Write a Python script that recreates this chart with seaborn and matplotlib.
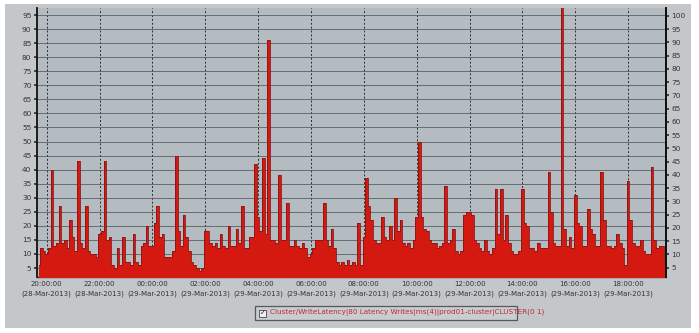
import numpy as np
import pandas as pd
import matplotlib
matplotlib.use("Agg")
import matplotlib.pyplot as plt
import matplotlib.dates as mdates
from matplotlib.patches import Rectangle
import seaborn as sns

# ---- data (6-minute samples starting 28-Mar-2013 19:42) ----
start_time = "2013-03-28 19:42"
pre_20 = [6, 12, 11]
h20 = [10, 12, 40, 13, 14, 27, 14, 15, 12, 22]
h21 = [16, 11, 43, 14, 12, 27, 11, 10, 10, 9]
h22 = [17, 18, 43, 15, 16, 6, 5, 12, 6, 16]
h23 = [7, 7, 6, 17, 7, 6, 13, 14, 20, 13]
h00 = [13, 21, 27, 16, 17, 9, 9, 9, 11, 45]
h01 = [18, 13, 24, 16, 11, 7, 6, 5, 4, 5]
h02 = [18, 18, 14, 13, 14, 12, 17, 13, 12, 20]
h03 = [13, 13, 19, 14, 27, 12, 12, 16, 16, 42]
h04 = [23, 18, 44, 17, 86, 15, 15, 14, 38, 15]
h05 = [15, 28, 13, 13, 15, 13, 12, 14, 12, 9]
h06 = [10, 12, 15, 15, 15, 28, 15, 13, 19, 12]
h07 = [7, 6, 7, 6, 8, 6, 7, 6, 21, 6]
h08 = [16, 37, 27, 22, 15, 14, 14, 23, 16, 15]
h09 = [20, 15, 30, 18, 22, 14, 13, 14, 12, 15]
h10 = [23, 50, 23, 19, 18, 15, 14, 14, 12, 13]
h11 = [14, 34, 14, 15, 19, 11, 10, 11, 24, 25]
h12 = [25, 24, 15, 14, 12, 11, 15, 11, 10, 12]
h13 = [33, 17, 33, 15, 24, 14, 11, 10, 10, 11]
h14 = [33, 21, 20, 12, 12, 11, 14, 12, 12, 12]
h15 = [39, 25, 14, 13, 13, 104, 19, 13, 16, 12]
h16 = [31, 21, 20, 13, 13, 26, 19, 17, 13, 13]
h17 = [39, 22, 13, 13, 12, 13, 17, 14, 12, 6]
h18 = [36, 22, 14, 13, 13, 15, 11, 10, 10, 41]
h19 = [15, 12, 13, 13, 8]

latency = (pre_20 + h20 + h21 + h22 + h23 + h00 + h01 + h02 + h03 + h04 + h05
           + h06 + h07 + h08 + h09 + h10 + h11 + h12 + h13 + h14 + h15 + h16
           + h17 + h18 + h19)

left_ticks = list(range(5, 100, 5))
right_ticks = list(range(5, 105, 5))
legend_label = "Cluster/WriteLatency|80 Latency Writes|ms(4)|prod01-cluster|CLUSTER(0 1)"

times = pd.date_range(start_time, periods=len(latency), freq="6min")
df = pd.DataFrame({"time": times, "latency": latency})

sns.set_theme(style="white")
plt.rcParams["font.family"] = ["DejaVu Sans"]

W, H = 699, 333
fig = plt.figure(figsize=(W / 100, H / 100), dpi=100)
fig.patch.set_facecolor("white")
fig.patches.append(Rectangle((5 / W, 5 / H), 686 / W, 324 / H, transform=fig.transFigure,
                             facecolor="#c3c7ca", edgecolor="none", zorder=-5))

ax = fig.add_axes([37 / W, 1 - 277 / H, 629 / W, 269 / H])
ax.set_facecolor("#b5bcc1")

ax.fill_between(df["time"], 0, df["latency"], color="#d41a10", lw=0, step="mid", zorder=3)
sns.lineplot(data=df, x="time", y="latency", ax=ax, color="#8c1414", lw=0.6,
             drawstyle="steps-mid", zorder=4)

ax.set_xlim(pd.Timestamp("2013-03-28 19:38"), pd.Timestamp("2013-03-29 19:26"))
ax.set_ylim(1.8, 97.5)
ax.set_yticks(left_ticks)
ax.set_yticklabels([str(t) for t in left_ticks])
ax.xaxis.set_major_locator(mdates.HourLocator(byhour=range(0, 24, 2)))
ax.xaxis.set_major_formatter(mdates.DateFormatter("%H:%M:%S\n(%d-%b-%Y)"))
ax.set_xlabel("")
ax.set_ylabel("")

ax.grid(axis="y", color="#5a6065", lw=0.6, ls="-", zorder=1)
ax.grid(axis="x", color="#2a2a2a", lw=0.7, ls=(0, (2, 2)), zorder=1)
ax.set_axisbelow(True)

ax.tick_params(axis="y", labelsize=5.3, colors="#333333", length=2, pad=2, left=True)
ax.tick_params(axis="x", labelsize=5.0, colors="#333333", length=0, pad=3)
for lab in ax.get_xticklabels():
    lab.set_linespacing(1.6)
for side in ["left", "right"]:
    ax.spines[side].set_color("#111111")
    ax.spines[side].set_linewidth(1.3)
ax.spines["top"].set_visible(False)
ax.spines["bottom"].set_color("#5a1010")
ax.spines["bottom"].set_linewidth(1.0)

ax2 = ax.twinx()
ax2.set_ylim(1.5, 103)
ax2.set_yticks(right_ticks)
ax2.set_yticklabels([str(t) for t in right_ticks])
ax2.tick_params(axis="y", labelsize=5.3, colors="#333333", length=2, pad=2)
ax2.spines["right"].set_color("#111111")
ax2.spines["right"].set_linewidth(1.3)
ax2.spines["top"].set_visible(False)
ax2.spines["left"].set_visible(False)
ax2.spines["bottom"].set_visible(False)
ax2.grid(False)

# legend box
fig.patches.append(Rectangle((255 / W, 1 - 320 / H), 262 / W, 14 / H, transform=fig.transFigure,
                             facecolor="#c9cdd0", edgecolor="#55595c", lw=0.9, zorder=5))
fig.patches.append(Rectangle((259 / W, 1 - 316.5 / H), 7 / W, 7 / H, transform=fig.transFigure,
                             facecolor="#eeeeee", edgecolor="#444444", lw=0.6, zorder=6))
fig.text(262.5 / W, 1 - 313 / H, "\u2713", fontsize=5, color="#222222", ha="center", va="center", zorder=7)
fig.text(270 / W, 1 - 313 / H, legend_label, fontsize=5.2, color="#c0283a", ha="left", va="center", zorder=7)

fig.savefig("out.png", dpi=100)
